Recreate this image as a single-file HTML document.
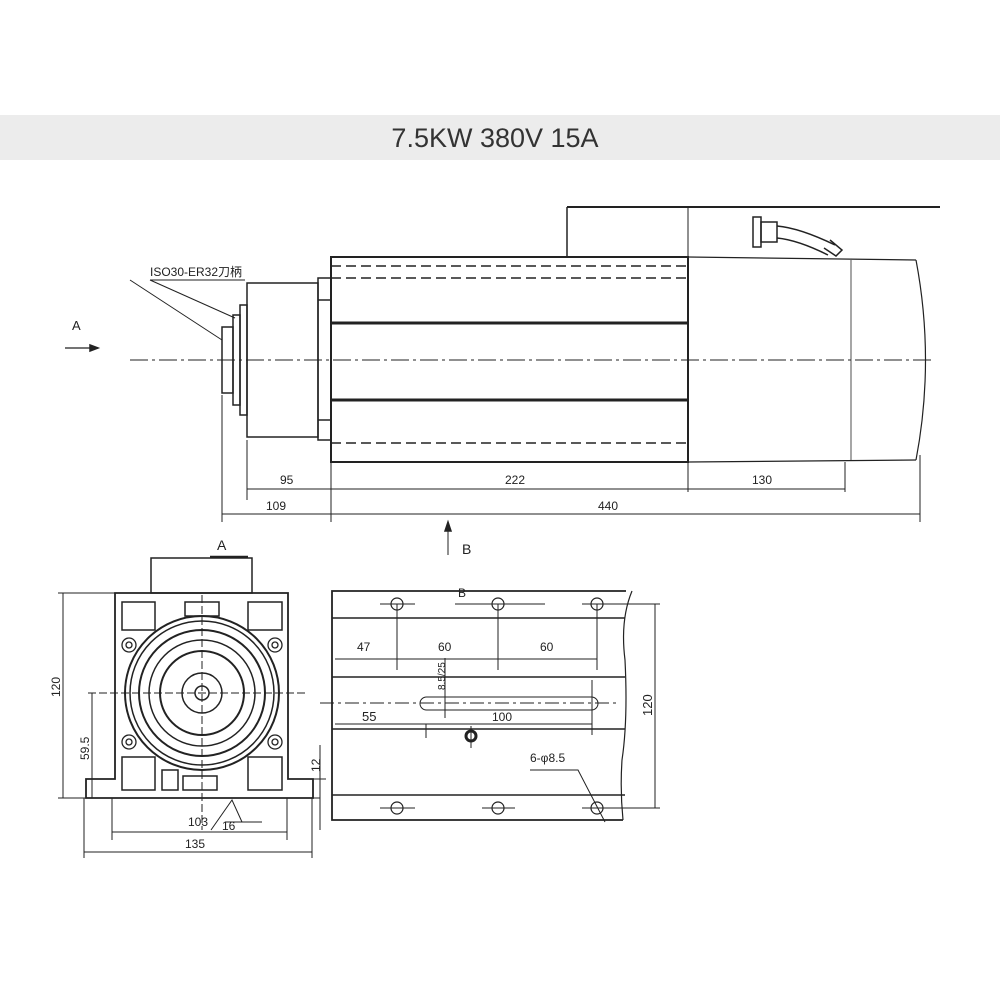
<!DOCTYPE html>
<html><head><meta charset="utf-8"><style>
html,body{margin:0;padding:0;background:#fff;}
svg{display:block;}
text{font-family:"Liberation Sans","Noto Sans CJK SC",sans-serif;fill:#222;}
</style></head><body>
<svg width="1000" height="1000" viewBox="0 0 1000 1000" xmlns="http://www.w3.org/2000/svg">
<rect x="0" y="115" width="1000" height="45" fill="#ececec"/>
<text x="495" y="147" font-size="27" text-anchor="middle" fill="#333" style="fill:#333">7.5KW 380V 15A</text>

<g stroke="#222" fill="none" stroke-width="1.5">
<!-- top view -->
<line x1="567" y1="207" x2="940" y2="207" stroke-width="2"/>
<line x1="567" y1="207" x2="567" y2="257"/>
<line x1="688" y1="207" x2="688" y2="257" stroke-width="1"/>
<rect x="753" y="217" width="8" height="30"/>
<rect x="761" y="222" width="16" height="20"/>
<path d="M777 226 Q800 228 835 245 M777 238 Q798 240 828 255"/>
<path d="M830 240 l12 10 l-6 6 l-12 -8"/>
<rect x="331" y="257" width="357" height="205" stroke-width="2"/>
<line x1="688" y1="257" x2="916" y2="260" stroke-width="1.2"/>
<line x1="688" y1="462" x2="916" y2="460" stroke-width="1.2"/>
<path d="M916 260 Q935 360 916 460" stroke-width="1.2"/>
<line x1="688" y1="257" x2="688" y2="462" stroke-width="1"/>
<line x1="851" y1="260" x2="851" y2="460" stroke-width="0.8"/>
<line x1="331" y1="266" x2="688" y2="266" stroke-dasharray="10,5"/>
<line x1="331" y1="278" x2="688" y2="278" stroke-dasharray="10,5"/>
<line x1="331" y1="443" x2="688" y2="443" stroke-dasharray="10,5"/>
<line x1="331" y1="323" x2="688" y2="323" stroke-width="3"/>
<line x1="331" y1="400" x2="688" y2="400" stroke-width="3"/>
<rect x="318" y="278" width="13" height="162"/>
<line x1="318" y1="300" x2="331" y2="300"/><line x1="318" y1="420" x2="331" y2="420"/>
<rect x="247" y="283" width="71" height="154"/>
<rect x="240" y="305" width="7" height="110"/>
<rect x="233" y="315" width="7" height="90"/>
<rect x="222" y="327" width="11" height="66"/>
<line x1="130" y1="360" x2="935" y2="360" stroke-width="1" stroke-dasharray="18,4,3,4"/>
<!-- label leaders -->
<line x1="150" y1="280" x2="245" y2="280" stroke-width="1"/>
<line x1="130" y1="280" x2="222" y2="340" stroke-width="1"/>
<line x1="150" y1="280" x2="235" y2="318" stroke-width="1"/>
<!-- A arrow -->
<line x1="65" y1="348" x2="98" y2="348" stroke-width="1.2"/>
<path d="M98 348 l-8 -3 v6 z" fill="#222"/>
<!-- dims -->
<g stroke-width="1">
<line x1="222" y1="395" x2="222" y2="522"/>
<line x1="247" y1="440" x2="247" y2="500"/>
<line x1="331" y1="462" x2="331" y2="522"/>
<line x1="688" y1="462" x2="688" y2="492"/>
<line x1="845" y1="462" x2="845" y2="492"/>
<line x1="920" y1="455" x2="920" y2="522"/>
<line x1="247" y1="489" x2="845" y2="489"/>
<line x1="222" y1="514" x2="920" y2="514"/>
<line x1="448" y1="525" x2="448" y2="555"/>
</g>
<path d="M448 522 l-3 9 h6 z" fill="#222"/>
</g>
<g font-size="12">
<text x="150" y="276">ISO30-ER32刀柄</text>
<text x="72" y="330" font-size="13">A</text>
<text x="280" y="484">95</text>
<text x="505" y="484">222</text>
<text x="752" y="484">130</text>
<text x="266" y="510">109</text>
<text x="598" y="510">440</text>
<text x="462" y="554" font-size="14">B</text>
<text x="217" y="550" font-size="14">A</text>
</g>

<!-- front view -->
<g stroke="#222" fill="none" stroke-width="1.5">
<rect x="151" y="558" width="101" height="35"/>
<line x1="210" y1="557" x2="248" y2="557" stroke-width="2.5"/>
<path d="M115 593 H288 V779 H313 V798 H86 V779 H115 Z" stroke-width="1.8"/>
<rect x="122" y="602" width="33" height="28"/>
<rect x="185" y="602" width="34" height="14"/>
<rect x="248" y="602" width="34" height="28"/>
<rect x="122" y="757" width="33" height="33"/>
<rect x="248" y="757" width="34" height="33"/>
<rect x="183" y="776" width="34" height="14"/>
<rect x="162" y="770" width="16" height="20"/>
<circle cx="202" cy="693" r="77" stroke-width="2"/>
<circle cx="202" cy="693" r="72"/>
<circle cx="202" cy="693" r="63" stroke-width="2"/>
<circle cx="202" cy="693" r="53"/>
<circle cx="202" cy="693" r="42" stroke-width="2"/>
<circle cx="202" cy="693" r="20"/>
<circle cx="202" cy="693" r="7"/>
<g stroke-width="1.3">
<circle cx="129" cy="645" r="7"/><circle cx="129" cy="645" r="3"/>
<circle cx="275" cy="645" r="7"/><circle cx="275" cy="645" r="3"/>
<circle cx="129" cy="742" r="7"/><circle cx="129" cy="742" r="3"/>
<circle cx="275" cy="742" r="7"/><circle cx="275" cy="742" r="3"/>
</g>
<g stroke-width="1">
<line x1="202" y1="595" x2="202" y2="830" stroke-dasharray="8,3"/>
<line x1="88" y1="693" x2="305" y2="693" stroke-dasharray="8,3"/>
<line x1="58" y1="593" x2="115" y2="593"/>
<line x1="58" y1="798" x2="320" y2="798"/>
<line x1="63" y1="593" x2="63" y2="798"/>
<line x1="92" y1="693" x2="92" y2="798"/>
<line x1="112" y1="798" x2="112" y2="840"/>
<line x1="287" y1="798" x2="287" y2="840"/>
<line x1="84" y1="798" x2="84" y2="858"/>
<line x1="312" y1="798" x2="312" y2="858"/>
<line x1="112" y1="832" x2="287" y2="832"/>
<line x1="84" y1="852" x2="312" y2="852"/>
<line x1="320" y1="745" x2="320" y2="830"/>
<path d="M211 830 L232 800 L242 822 M226 822 H262"/>
<line x1="288" y1="779" x2="326" y2="779"/>
</g>
</g>
<g font-size="12">
<text transform="translate(60,697) rotate(-90)">120</text>
<text transform="translate(89,760) rotate(-90)">59.5</text>
<text x="188" y="826">103</text>
<text x="222" y="830">16</text>
<text x="185" y="848">135</text>
<text transform="translate(320,772) rotate(-90)">12</text>
</g>

<!-- side view -->
<g stroke="#222" fill="none" stroke-width="1.5">
<path d="M626 591 H332 V820 H623" stroke-width="1.8"/>
<path d="M632 591 Q620 620 625 660 Q628 720 622 760 Q620 790 623 820" stroke-width="1.2"/>
<line x1="332" y1="618" x2="625" y2="618"/>
<line x1="332" y1="677" x2="625" y2="677"/>
<line x1="332" y1="729" x2="625" y2="729"/>
<line x1="332" y1="795" x2="625" y2="795"/>
<g stroke-width="1.2">
<circle cx="397" cy="604" r="6"/><circle cx="498" cy="604" r="6"/><circle cx="597" cy="604" r="6"/>
<circle cx="397" cy="808" r="6"/><circle cx="498" cy="808" r="6"/><circle cx="597" cy="808" r="6"/>
</g>
<g stroke-width="1">
<line x1="380" y1="604" x2="415" y2="604"/><line x1="455" y1="604" x2="545" y2="604"/><line x1="582" y1="604" x2="660" y2="604"/>
<line x1="380" y1="808" x2="415" y2="808"/><line x1="482" y1="808" x2="515" y2="808"/><line x1="582" y1="808" x2="660" y2="808"/>
<line x1="397" y1="604" x2="397" y2="670"/><line x1="498" y1="604" x2="498" y2="670"/><line x1="597" y1="604" x2="597" y2="670"/>
<line x1="335" y1="659" x2="597" y2="659"/>
<rect x="420" y="697" width="178" height="13" rx="6.5"/>
<line x1="320" y1="703" x2="620" y2="703" stroke-dasharray="14,4,3,4"/>
<line x1="335" y1="724" x2="592" y2="724"/>
<line x1="426" y1="724" x2="426" y2="738"/>
<line x1="592" y1="680" x2="592" y2="735"/>
<line x1="445" y1="658" x2="445" y2="718"/>
<line x1="655" y1="604" x2="655" y2="808"/>
<path d="M530 770 H578 L605 822"/>
</g>
<circle cx="471" cy="736" r="5" stroke-width="3"/>
<line x1="471" y1="726" x2="471" y2="748" stroke-width="1"/>
</g>
<g font-size="12">
<text x="458" y="597">B</text>
<text x="357" y="651">47</text>
<text x="438" y="651">60</text>
<text x="540" y="651">60</text>
<text x="362" y="721" font-size="13">55</text>
<text x="492" y="721">100</text>
<text transform="translate(445,690) rotate(-90)" font-size="10">8.5/25</text>
<text transform="translate(652,716) rotate(-90)" font-size="13">120</text>
<text x="530" y="762">6-φ8.5</text>
</g>
</svg>
</body></html>
